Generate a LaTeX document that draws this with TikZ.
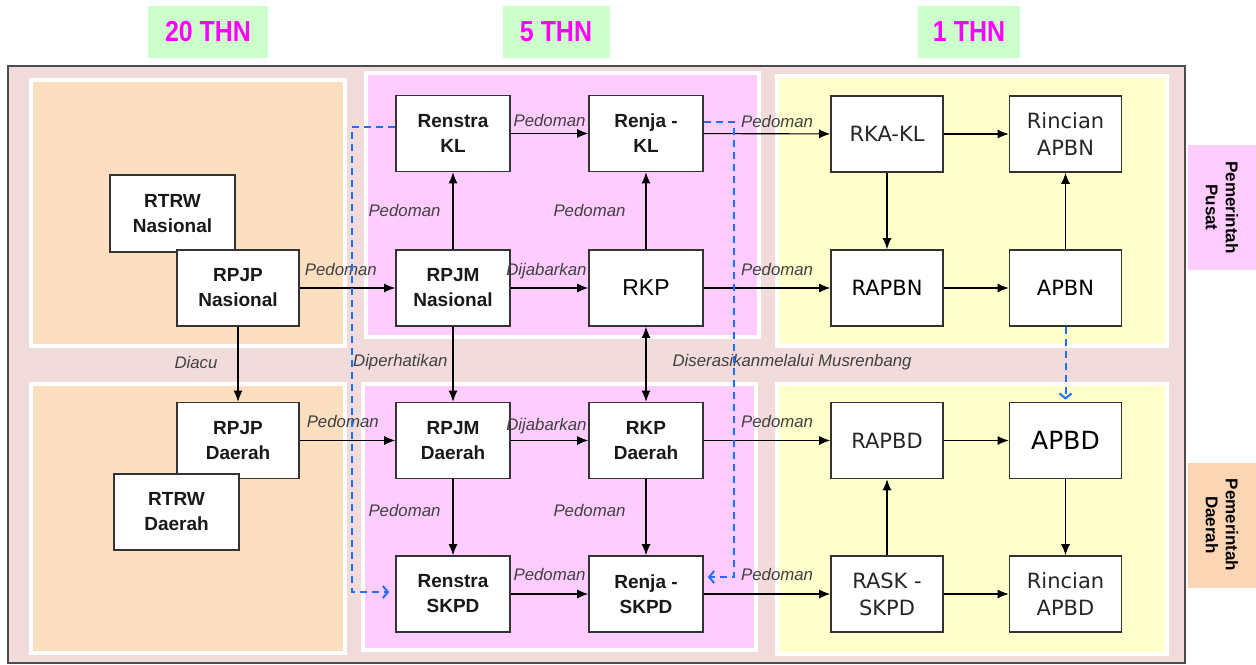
\documentclass[tikz,border=0pt]{standalone}
\usepackage{fontspec}
\setmainfont{Liberation Sans}
\newfontfamily\verdanafont{DejaVu Sans}
\newfontfamily\narrowfont[FakeStretch=0.86]{Liberation Sans}
\usetikzlibrary{arrows.meta}
\definecolor{framebg}{RGB}{242,220,219}
\definecolor{peach}{RGB}{252,222,192}
\definecolor{peachdark}{RGB}{252,213,180}
\definecolor{pinkbg}{RGB}{255,204,255}
\definecolor{yellowbg}{RGB}{255,255,204}
\definecolor{greenbg}{RGB}{204,255,204}
\definecolor{headmagenta}{RGB}{255,0,255}
\definecolor{dashblue}{RGB}{30,110,255}
\definecolor{lblgray}{RGB}{64,64,64}

\begin{document}
\begin{tikzpicture}[x=0.5pt, y=-0.5pt,
    doc/.style={draw=black!80, line width=0.8pt, fill=white, inner sep=0pt,
        minimum width=57pt, minimum height=38pt, align=center,
        font=\bfseries\fontsize{9.5}{12.5}\selectfont, text=black!90},
    angg/.style={doc, minimum width=56pt,
        font=\verdanafont\fontsize{10.5}{13.5}\selectfont, text=black!85},
    panel/.style={draw=white, line width=2pt},
    lbl/.style={font=\itshape\fontsize{8.4}{10}\selectfont, text=lblgray, inner sep=1pt},
    arr/.style={-{Latex[length=5.5pt,width=4.5pt]}, line width=0.55pt},
    arrboth/.style={{Latex[length=5.5pt,width=4.5pt]}-{Latex[length=5.5pt,width=4.5pt]}, line width=0.55pt},
    bluedash/.style={dashblue, line width=1pt, dash pattern=on 3.5pt off 2.5pt,
        -{Straight Barb[length=2.5pt,width=6pt]}},
    period/.style={fill=greenbg, text=headmagenta, minimum height=26pt,
        font=\narrowfont\bfseries\fontsize{14.5}{16}\selectfont},
    level/.style={font=\bfseries\fontsize{8.5}{10}\selectfont, align=center,
        rotate=-90, minimum height=34pt, minimum width=62.5pt}]
    \useasboundingbox (0,0) rectangle (1256,664);
    % background frame and panels
    \draw[fill=framebg, draw=black!70, line width=0.6pt] (8,66) rectangle (1185,663);
    \draw[panel, fill=peach] (31,80) rectangle (345,346);
    \draw[panel, fill=peach] (31,384) rectangle (345,653);
    \draw[panel, fill=pinkbg] (366,73) rectangle (759,337);
    \draw[panel, fill=pinkbg] (363,384) rectangle (756,650);
    \draw[panel, fill=yellowbg] (777,76) rectangle (1167,346);
    \draw[panel, fill=yellowbg] (777,384) rectangle (1167,654);
    % headings
    \node[period, minimum width=60pt] (thn20) at (208,32) {20 THN};
    \node[period, minimum width=53.5pt] (thn5) at (556,32) {5 THN};
    \node[period, minimum width=51pt] (thn1) at (969,32) {1 THN};
    \node[level, fill=pinkbg] (pusat) at (1222,207.5) {Pemerintah\\Pusat};
    \node[level, fill=peachdark] (daerah) at (1222,525) {Pemerintah\\Daerah};
    % 20 tahun
    \node[doc, minimum width=62.5pt, minimum height=38.5pt] (rtrwnas) at (172.5,213.5) {RTRW\\Nasional};
    \node[doc, minimum width=61pt] (rpjpnas) at (238,288) {RPJP\\Nasional};
    \node[doc, minimum width=61pt] (rpjpdae) at (238,440.5) {RPJP\\Daerah};
    \node[doc, minimum width=62.5pt] (rtrwdae) at (176.5,512) {RTRW\\Daerah};
    % 5 tahun
    \node[doc] (renstrakl) at (453,133.5) {Renstra\\KL};
    \node[doc] (renjakl) at (646,133.5) {Renja -\\KL};
    \node[doc] (rpjmnas) at (453,288) {RPJM\\Nasional};
    \node[doc, font=\fontsize{11.5}{13}\selectfont, text=black] (rkp) at (646,288) {RKP};
    \node[doc] (rpjmdae) at (453,440.5) {RPJM\\Daerah};
    \node[doc] (rkpdae) at (646,440.5) {RKP\\Daerah};
    \node[doc] (renstraskpd) at (453,594) {Renstra\\SKPD};
    \node[doc] (renjaskpd) at (646,594) {Renja -\\SKPD};
    % 1 tahun
    \node[angg] (rkakl) at (887,134) {RKA-KL};
    \node[angg] (rincianapbn) at (1065.5,134) {Rincian\\APBN};
    \node[angg, text=black] (rapbn) at (887,288) {RAPBN};
    \node[angg, text=black] (apbn) at (1065.5,288) {APBN};
    \node[angg] (rapbd) at (887,440.5) {RAPBD};
    \node[angg, text=black, font=\verdanafont\fontsize{12.5}{15}\selectfont] (apbd) at (1065.5,440.5) {APBD};
    \node[angg] (rask) at (887,594) {RASK -\\SKPD};
    \node[angg] (rincianapbd) at (1065.5,594) {Rincian\\APBD};
    % connectors
    \draw[arr] (rpjpnas) -- node[lbl, above=5pt, pos=0.43] {Pedoman} (rpjmnas);
    \draw[arr] (rpjpnas) -- node[lbl, left=9pt, pos=0.47] {Diacu} (rpjpdae);
    \draw[arr] (rpjpdae) -- node[lbl, above=5pt, pos=0.45] {Pedoman} (rpjmdae);
    \draw[arr] (rpjmnas) -- node[lbl, left=5pt] {Pedoman} (renstrakl);
    \draw[arr] (renstrakl) -- node[lbl, above=2pt] {Pedoman} (renjakl);
    \draw[arr] (rpjmnas) -- node[lbl, above=3pt, pos=0.46] {Dijabarkan} (rkp);
    \draw[arr] (rkp) -- node[lbl, left=9pt] {Pedoman} (renjakl);
    \draw[arr] (rpjmnas) -- node[lbl, left=1.5pt, pos=0.47] {Diperhatikan} (rpjmdae);
    \draw[arrboth] (rkp) -- node[lbl, right=12pt, pos=0.47] {Diserasikanmelalui Musrenbang} (rkpdae);
    \draw[arr] (rpjmdae) -- node[lbl, above=2pt, pos=0.46] {Dijabarkan} (rkpdae);
    \draw[arr] (rpjmdae) -- node[lbl, left=5pt, pos=0.41] {Pedoman} (renstraskpd);
    \draw[arr] (rkpdae) -- node[lbl, left=9pt, pos=0.41] {Pedoman} (renjaskpd);
    \draw[arr] (renstraskpd) -- node[lbl, above=5.5pt] {Pedoman} (renjaskpd);
    \draw[arr] (renjakl) -- node[lbl, above=2pt, pos=0.58] {Pedoman} (rkakl);
    \draw[arr] (rkp) -- node[lbl, above=5pt, pos=0.58] {Pedoman} (rapbn);
    \draw[arr] (rkpdae) -- node[lbl, above=5pt, pos=0.58] {Pedoman} (rapbd);
    \draw[arr] (renjaskpd) -- node[lbl, above=5.5pt, pos=0.58] {Pedoman} (rask);
    \draw[arr] (rkakl) -- (rincianapbn);
    \draw[arr] (rkakl) -- (rapbn);
    \draw[arr] (rapbn) -- (apbn);
    \draw[arr] (apbn) -- (rincianapbn);
    \draw[arr] (rapbd) -- (apbd);
    \draw[arr] (rask) -- (rapbd);
    \draw[arr] (rask) -- (rincianapbd);
    \draw[arr] (apbd) -- (rincianapbd);
    % dashed links
    \draw[bluedash, shorten >=3pt] ([yshift=3.5pt]renstrakl.west) -- ++(-43,0) |- ([yshift=1pt]renstraskpd.west);
    \draw[bluedash, shorten >=2pt] ([yshift=5.75pt]renjakl.east) -- ++(30,0) |- ([yshift=8.5pt]renjaskpd.east);
    \draw[bluedash, shorten >=1pt] (apbn) -- (apbd);
\end{tikzpicture}
\end{document}
